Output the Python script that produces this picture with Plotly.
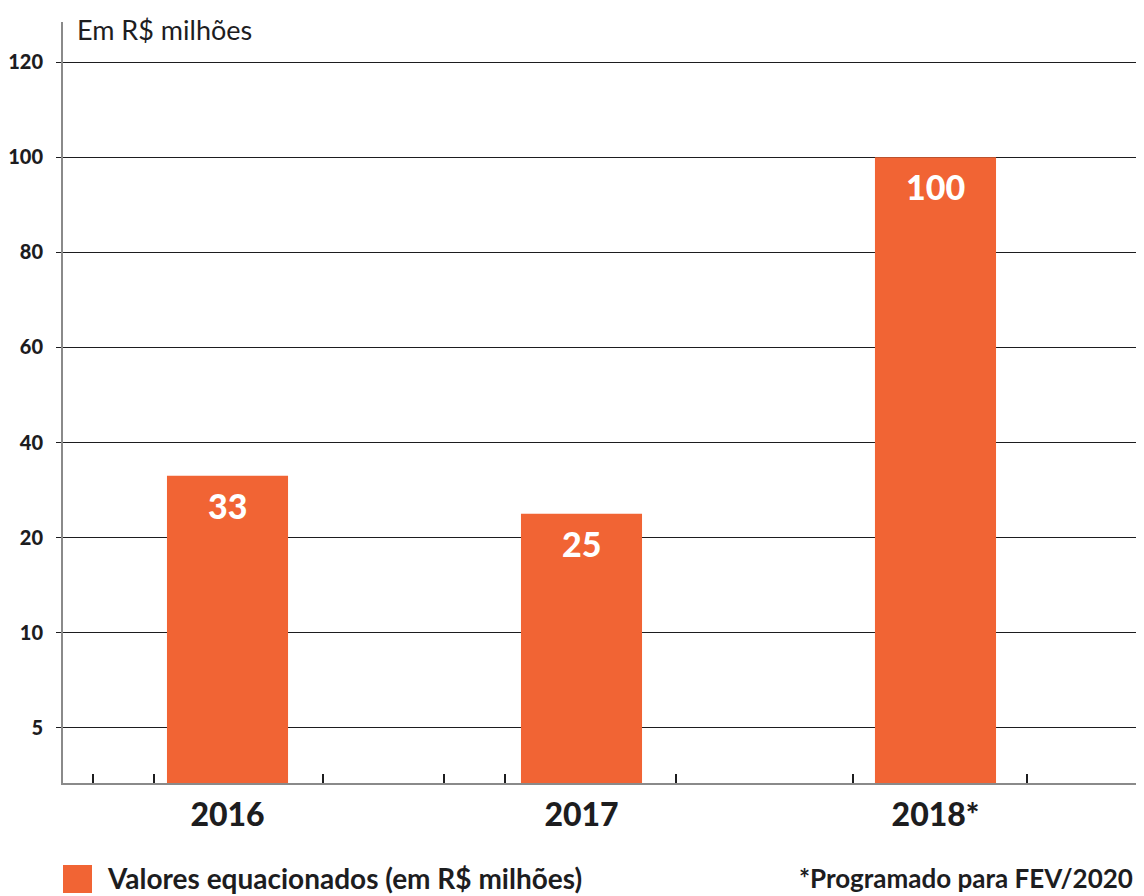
import numpy as np
import plotly.graph_objects as go

# ---- data ----
years = ["2016", "2017", "2018*"]
values = [33, 25, 100]
value_labels = ["33", "25", "100"]
y_tick_values = [5, 10, 20, 40, 60, 80, 100, 120]
y_tick_labels = ["5", "10", "20", "40", "60", "80", "100", "120"]
x_minor_ticks = [-0.380, -0.208, 0.270, 0.612, 0.784, 1.267, 1.767, 2.258]
unit_label = "Em R$ milhões"
legend_label = "Valores equacionados (em R$ milhões)"
footnote = "*Programado para FEV/2020"

# ---- equal-step value scale as in the original graphic ----
y_positions = list(range(len(y_tick_values)))


def scale(v):
    return float(np.interp(v, y_tick_values, y_positions))


Y_BOTTOM = -0.582
Y_TOP = 7.424
X_LEFT = -0.4647
X_RIGHT = 2.589

ORANGE = "#F16434"
DARK = "#1d1d1f"
FONT = "Lato"

W, H = 1136, 888
ML, MT, MB = 55, 14, 113
PW, PH = W - ML, H - MT - MB


def px(fx):
    return (fx - ML) / PW


def py(fy):
    return (H - MB - fy) / PH


x_pos = list(range(len(years)))
bar_heights = [scale(v) - Y_BOTTOM for v in values]

fig = go.Figure()
fig.add_trace(go.Bar(
    x=x_pos,
    y=bar_heights,
    base=[Y_BOTTOM] * len(values),
    width=0.342,
    marker=dict(color=ORANGE, line=dict(width=0)),
    hoverinfo="skip",
    showlegend=False,
))

for xi, v, lab in zip(x_pos, values, value_labels):
    fig.add_annotation(
        x=xi, y=scale(v), xref="x", yref="y",
        text=lab, showarrow=False,
        yanchor="top", xanchor="center", yshift=-7,
        font=dict(family=FONT, size=34, color="white", weight=900),
    )

fig.add_annotation(
    x=px(67), y=py(22), xref="paper", yref="paper", text=unit_label, showarrow=False,
    xanchor="left", yanchor="middle",
    font=dict(family=FONT, size=27, color=DARK),
)

fig.update_layout(
    width=W, height=H,
    margin=dict(l=ML, r=0, t=MT, b=MB, pad=0),
    paper_bgcolor="white", plot_bgcolor="white",
    xaxis=dict(
        range=[X_LEFT, X_RIGHT],
        tickmode="array", tickvals=x_pos,
        ticktext=years,
        ticks="", showgrid=False, zeroline=False,
        showline=True, linecolor="#8a8a8a", linewidth=2,
        tickfont=dict(family=FONT, size=32, color=DARK, weight=900),
        ticklabelstandoff=3,
        minor=dict(tickmode="array", tickvals=x_minor_ticks, ticks="inside",
                   ticklen=9, tickwidth=2, tickcolor=DARK, showgrid=False),
        fixedrange=True,
    ),
    yaxis=dict(
        range=[Y_BOTTOM, Y_TOP],
        tickmode="array", tickvals=[scale(v) for v in y_tick_values],
        ticktext=y_tick_labels,
        ticks="outside", ticklen=5, tickwidth=1, tickcolor=DARK,
        showgrid=True, gridcolor=DARK, gridwidth=1,
        zeroline=False,
        showline=True, linecolor="#8a8a8a", linewidth=2,
        tickfont=dict(family=FONT, size=20, color=DARK, weight=900),
        ticklabelstandoff=9,
        fixedrange=True,
    ),
    showlegend=False,
)

# legend swatch and texts below the chart
fig.add_shape(type="rect", xref="paper", yref="paper",
              x0=px(55), x1=px(84), y0=py(857), y1=py(885),
              fillcolor=ORANGE, line=dict(width=0))
fig.add_annotation(x=px(97), y=py(870), xref="paper", yref="paper",
                   text=legend_label, showarrow=False,
                   xanchor="left", yanchor="middle",
                   font=dict(family=FONT, size=28, color=DARK, weight=700))
fig.add_annotation(x=px(789), y=py(870), xref="paper", yref="paper",
                   text=footnote, showarrow=False,
                   xanchor="left", yanchor="middle",
                   font=dict(family=FONT, size=26, color=DARK, weight=700))

fig.write_html("out.html")
